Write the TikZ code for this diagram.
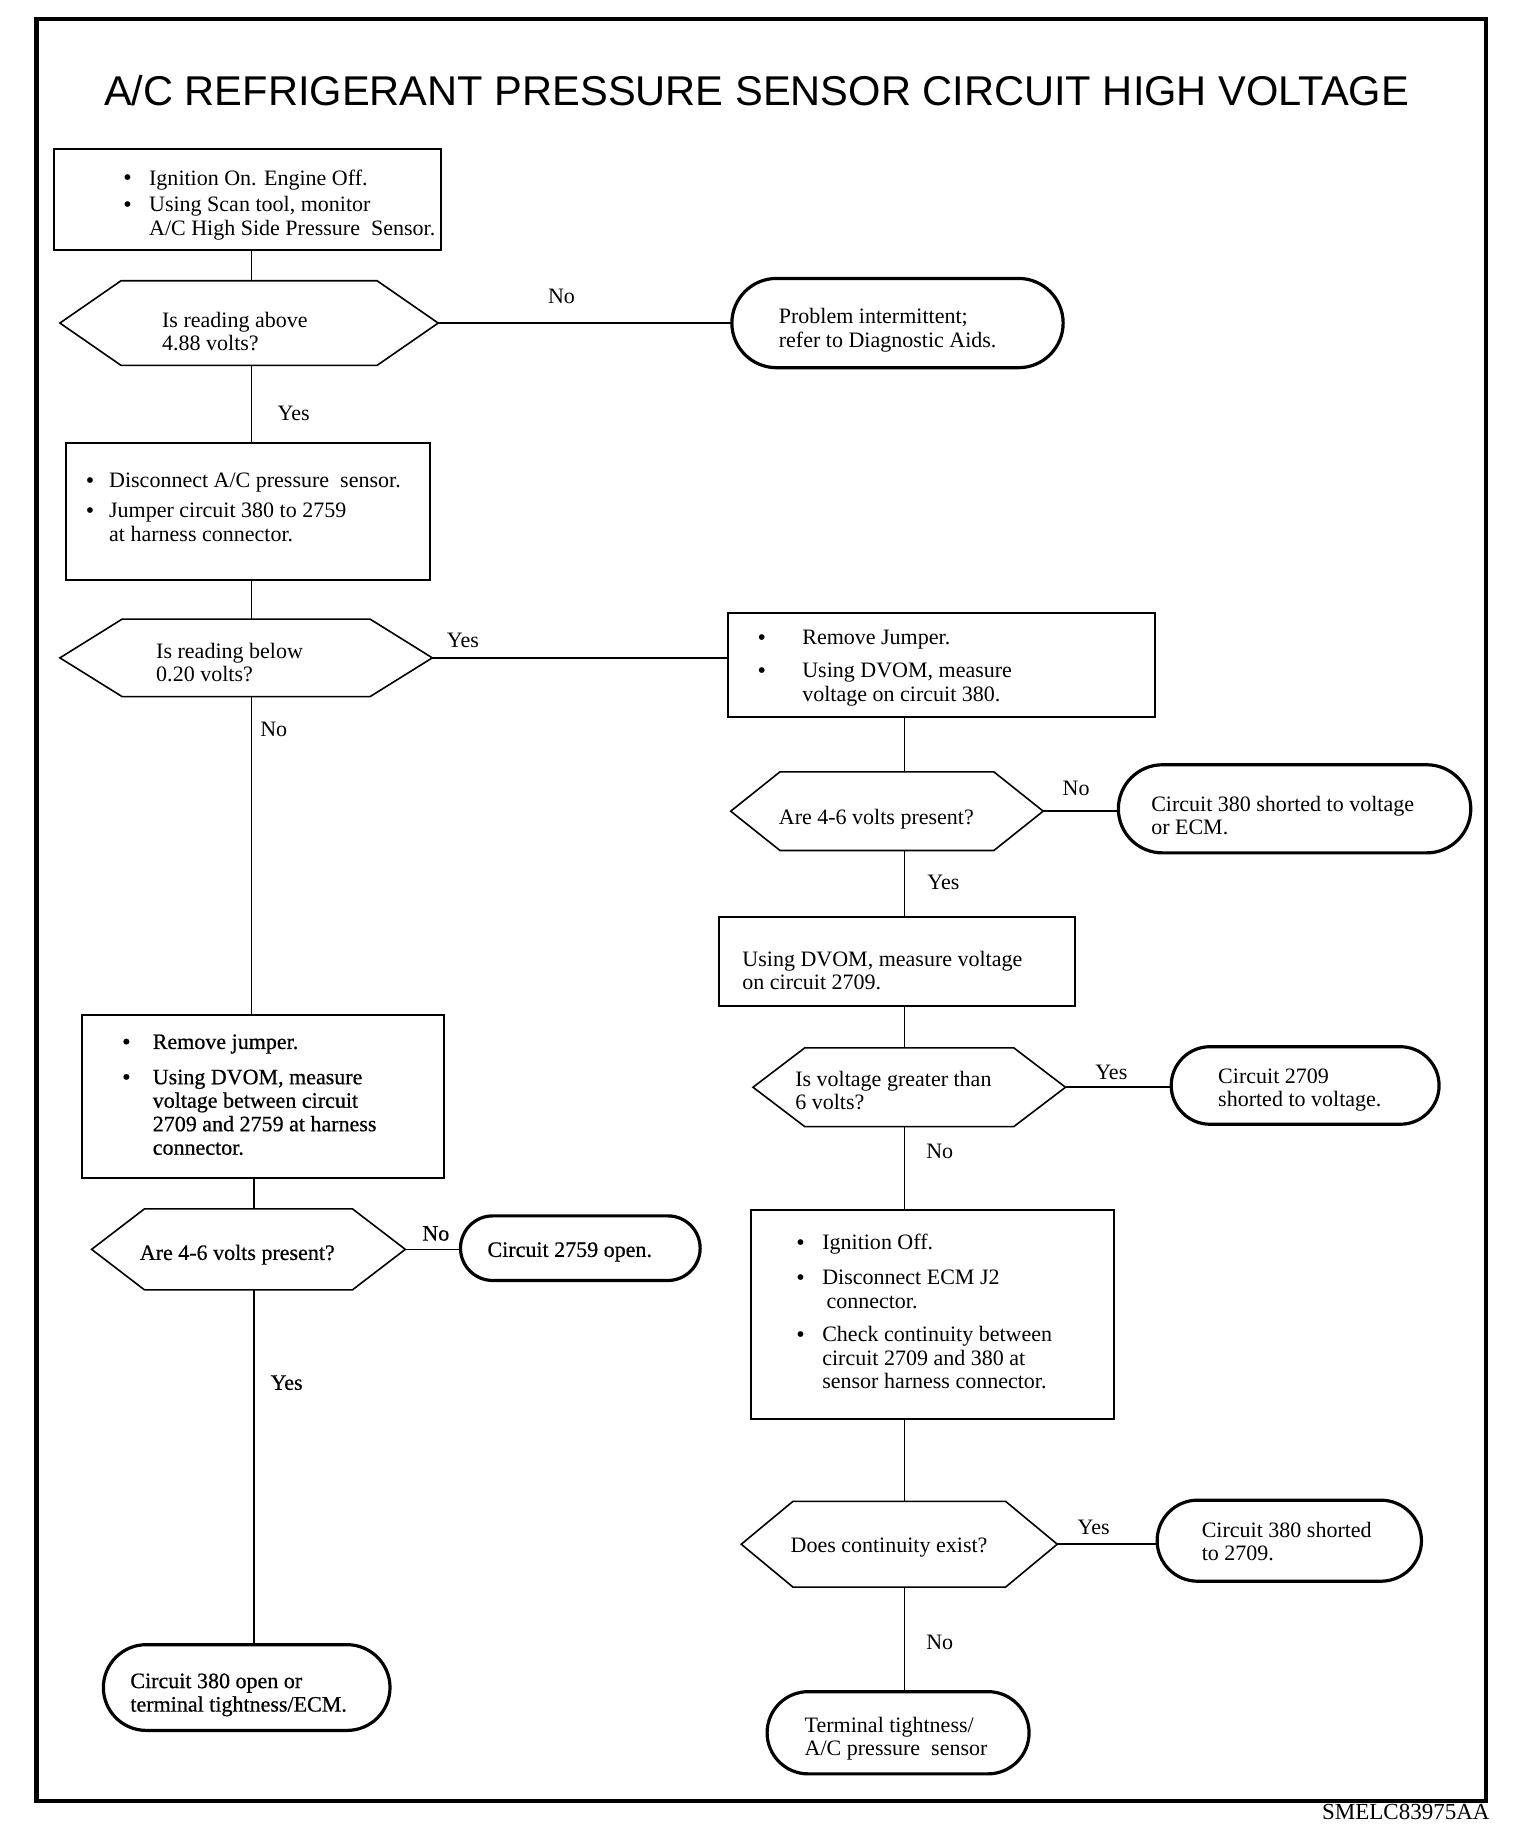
\documentclass[tikz,border=0pt]{standalone}
\usepackage{fontspec}
\setmainfont{Liberation Serif}
\newfontfamily\titlefont{Liberation Sans}
\newfontfamily\boldish[FakeBold=0.6]{Liberation Serif}
\usetikzlibrary{shapes.misc,fit,calc}
\newcommand\bul[1]{\makebox[#1][l]{\raisebox{-0.3pt}{\fontsize{12}{11}\selectfont\textbullet}}}
\newcommand\hexdraw[2]{\draw[hexline] (#1.west) -- ($(#1.north west)+(#2,0)$) -- ($(#1.north east)+(-#2,0)$) -- (#1.east) -- ($(#1.south east)+(-#2,0)$) -- ($(#1.south west)+(#2,0)$) -- cycle;}
\begin{document}
\begin{tikzpicture}[x=0.5871pt,y=-0.5871pt,
  every node/.style={inner sep=0pt, outer sep=0pt},
  box/.style={draw, line width=1pt, rectangle},
  term/.style={draw, line width=1.6pt, rounded rectangle},
  hexb/.style={draw=none, rectangle},
  hexline/.style={line width=0.8pt, line join=miter},
  conn/.style={line width=0.8pt},
  txt/.style={anchor=north west, align=left, font=\fontsize{11}{11.74}\selectfont},
  btxt/.style={txt, font=\boldish\fontsize{11}{11.74}\selectfont},
  lbl/.style={anchor=center, font=\fontsize{11}{12}\selectfont},
  blbl/.style={lbl, font=\boldish\fontsize{11}{12}\selectfont}]
\useasboundingbox (0,0) rectangle (1308,1568);
\node[draw, line width=2.2pt, fit={(31,16) (1265,1533)}] (frame) {};
\node (title) at (644,77) {\titlefont\fontsize{20.8}{22}\selectfont A/C REFRIGERANT PRESSURE SENSOR CIRCUIT HIGH VOLTAGE};
\node[font=\fontsize{11.5}{12}\selectfont, anchor=east] (code) at (1268,1542) {SMELC83975AA};
\coordinate (lc) at (214,0);
\coordinate (lc2) at (216,0);
\coordinate (rc) at (770,0);

% boxes
\node[box, fit={(46,127) (375,213)}] (b1) {};
\node[box, fit={(56,377) (366,494)}] (b2) {};
\node[box, fit={(620,522) (983,610)}] (b3) {};
\node[box, fit={(70,864) (378,1003)}] (b4) {};
\node[box, fit={(612,781) (915,856)}] (b5) {};
\node[box, fit={(639,1030) (948,1208)}] (b6) {};

% hexagons
\node[hexb, fit={(51,239) (373,311)}] (h1) {};
\node[hexb, fit={(51,527) (368,593)}] (h2) {};
\node[hexb, fit={(622,657) (888,724)}] (h3) {};
\node[hexb, fit={(641,892) (907,959)}] (h4) {};
\node[hexb, fit={(631,1278) (900,1351)}] (h5) {};
\node[hexb, fit={(78,1029) (345,1098)}] (h6) {};
\hexdraw{h1}{52}
\hexdraw{h2}{53}
\hexdraw{h3}{42}
\hexdraw{h4}{44}
\hexdraw{h5}{44}
\hexdraw{h6}{45}

% terminals (fit spans the straight part; arcs add half the height on each side)
\node[term, fit={(661,237) (867,313)}] (t1) {};
\node[term, fit={(989.5,651) (1214.5,726)}] (t2) {};
\node[term, fit={(1030,891) (1192,957)}] (t3) {};
\node[term, fit={(1019.5,1277) (1175.5,1346)}] (t4) {};
\node[term, fit={(688,1440) (841,1510)}] (t5) {};
\node[term, fit={(419.5,1035) (568.5,1090)}] (t6) {};
\node[term, fit={(124.5,1400) (295.5,1473)}] (t7) {};

% texts
\node[txt] (b1t) at (105,144.5) {\bul{12.9pt}Ignition On. Engine Off.\\[1.5pt]
\bul{12.9pt}Using Scan tool, monitor\\
\hspace*{12.9pt}A/C High Side Pressure\ \ Sensor.};
\node[txt] (b2t) at (73,402.5) {\bul{11.7pt}Disconnect A/C pressure\ \ sensor.\\[3.5pt]
\bul{11.7pt}Jumper circuit 380 to 2759\\
\hspace*{11.7pt}at harness connector.};
\node[txt] (b3t) at (645,536.5) {\bul{22.3pt}Remove Jumper.\\[4.7pt]
\bul{22.3pt}Using DVOM, measure\\
\hspace*{22.3pt}voltage on circuit 380.};
\node[txt] (b5t) at (632,809.5) {Using DVOM, measure voltage\\on circuit 2709.};
\node[btxt] (b4t) at (104,880.5) {\bul{15.3pt}Remove jumper.\\[5.9pt]
\bul{15.3pt}Using DVOM, measure\\
\hspace*{15.3pt}voltage between circuit\\
\hspace*{15.3pt}2709 and 2759 at harness\\
\hspace*{15.3pt}connector.};
\node[txt] (b6t) at (678,1050.5) {\bul{12.9pt}Ignition Off.\\[5.9pt]
\bul{12.9pt}Disconnect ECM J2\\
\hspace*{15pt}connector.\\[5pt]
\bul{12.9pt}Check continuity between\\
\hspace*{12.9pt}circuit 2709 and 380 at\\
\hspace*{12.9pt}sensor harness connector.};

\node[txt] (h1t) at (138,265.5) {Is reading above\\4.88 volts?};
\node[txt] (h2t) at (133,547.5) {Is reading below\\0.20 volts?};
\node[txt] (h3t) at (663,688.5) {Are 4-6 volts present?};
\node[txt] (h4t) at (677,911.5) {Is voltage greater than\\6 volts?};
\node[txt] (h5t) at (673,1309.5) {Does continuity exist?};
\node[btxt] (h6t) at (119,1059.5) {Are 4-6 volts present?};

\node[txt] (t1t) at (663,262.5) {Problem intermittent;\\refer to Diagnostic Aids.};
\node[txt] (t2t) at (980,677.5) {Circuit 380 shorted to voltage\\or ECM.};
\node[txt] (t3t) at (1037,909.5) {Circuit 2709\\shorted to voltage.};
\node[txt] (t4t) at (1023,1295.5) {Circuit 380 shorted\\to 2709.};
\node[txt] (t5t) at (685,1461.5) {Terminal tightness/\\A/C pressure\ \ sensor};
\node[btxt] (t6t) at (415,1057.5) {Circuit 2759 open.};
\node[btxt] (t7t) at (111,1424.5) {Circuit 380 open or\\terminal tightness/ECM.};

% connectors
\draw[conn] (b1.south -| lc) -- (h1.north -| lc);
\draw[conn] (h1.east) -- (t1.west);
\draw[conn] (h1.south -| lc) -- (b2.north -| lc);
\draw[conn] (b2.south -| lc) -- (h2.north -| lc);
\draw[conn] (h2.east) -- (h2.east -| b3.west);
\draw[conn] (h2.south -| lc) -- (b4.north -| lc);
\draw[conn] (b3.south -| rc) -- (h3.north -| rc);
\draw[conn] (h3.east) -- (h3.east -| t2.west);
\draw[conn] (h3.south -| rc) -- (b5.north -| rc);
\draw[conn] (b5.south -| rc) -- (h4.north -| rc);
\draw[conn] (h4.east) -- (h4.east -| t3.west);
\draw[conn] (h4.south -| rc) -- (b6.north -| rc);
\draw[conn] (b6.south -| rc) -- (h5.north -| rc);
\draw[conn] (h5.east) -- (h5.east -| t4.west);
\draw[conn] (h5.south -| rc) -- (t5.north -| rc);
\draw[conn] (b4.south -| lc2) -- (h6.north -| lc2);
\draw[conn] (h6.east) -- (h6.east -| t6.west);
\draw[conn] (h6.south -| lc2) -- (t7.north -| lc2);

% labels
\node[lbl] (l1) at (478,252) {No};
\node[lbl] (l2) at (250,352) {Yes};
\node[lbl] (l3) at (394,545) {Yes};
\node[lbl] (l4) at (233,621) {No};
\node[lbl] (l5) at (916,671) {No};
\node[lbl] (l6) at (803,751) {Yes};
\node[lbl] (l7) at (946,913) {Yes};
\node[lbl] (l8) at (800,980) {No};
\node[lbl] (l9) at (931,1300) {Yes};
\node[lbl] (l10) at (800,1398) {No};
\node[blbl] (l11) at (371,1050) {No};
\node[blbl] (l12) at (244,1177) {Yes};
\end{tikzpicture}
\end{document}
